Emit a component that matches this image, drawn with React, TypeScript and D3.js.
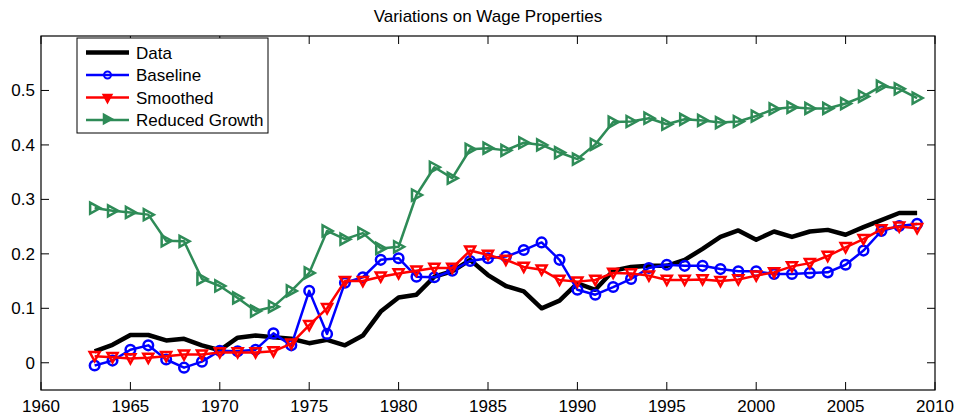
import React from "react";
import * as d3 from "d3";

const years: number[] = d3.range(1963, 2010);

const dataSeries: number[] = [
  0.021, 0.033, 0.051, 0.051, 0.041, 0.044, 0.032, 0.023, 0.046, 0.050,
  0.047, 0.044, 0.036, 0.042, 0.032, 0.050, 0.094, 0.120, 0.125, 0.158,
  0.168, 0.189, 0.161, 0.141, 0.131, 0.100, 0.114, 0.146, 0.134, 0.169,
  0.176, 0.178, 0.178, 0.189, 0.209, 0.231, 0.243, 0.226, 0.241, 0.231,
  0.241, 0.244, 0.235, 0.249, 0.262, 0.275, 0.275,
];

const baseline: number[] = [
  -0.005, 0.004, 0.024, 0.032, 0.006, -0.009, 0.002, 0.022, 0.021, 0.024,
  0.054, 0.032, 0.132, 0.053, 0.147, 0.157, 0.189, 0.192, 0.158, 0.157,
  0.169, 0.187, 0.192, 0.195, 0.207, 0.221, 0.189, 0.134, 0.125, 0.139,
  0.154, 0.174, 0.180, 0.178, 0.178, 0.172, 0.168, 0.168, 0.163, 0.163,
  0.165, 0.166, 0.180, 0.206, 0.242, 0.251, 0.255,
];

const smoothed: number[] = [
  0.012, 0.010, 0.008, 0.009, 0.012, 0.015, 0.015, 0.019, 0.019, 0.019,
  0.021, 0.035, 0.069, 0.100, 0.150, 0.150, 0.158, 0.164, 0.169, 0.174,
  0.174, 0.206, 0.198, 0.189, 0.176, 0.171, 0.152, 0.149, 0.152, 0.165,
  0.164, 0.160, 0.152, 0.152, 0.153, 0.150, 0.153, 0.160, 0.166, 0.177,
  0.183, 0.196, 0.212, 0.227, 0.245, 0.250, 0.247,
];

const reducedGrowth: number[] = [
  0.284, 0.279, 0.276, 0.272, 0.224, 0.223, 0.154, 0.141, 0.119, 0.095,
  0.103, 0.132, 0.165, 0.242, 0.227, 0.238, 0.210, 0.213, 0.308, 0.359,
  0.339, 0.392, 0.394, 0.390, 0.404, 0.400, 0.386, 0.374, 0.401, 0.442,
  0.443, 0.449, 0.438, 0.447, 0.445, 0.441, 0.443, 0.453, 0.466, 0.469,
  0.467, 0.467, 0.476, 0.489, 0.508, 0.503, 0.486,
];

const xTicks: number[] = [1960, 1965, 1970, 1975, 1980, 1985, 1990, 1995, 2000, 2005, 2010];
const yTicks: number[] = [0, 0.1, 0.2, 0.3, 0.4, 0.5];
const legendLabels: string[] = ["Data", "Baseline", "Smoothed", "Reduced Growth"];
const title = "Variations on Wage Properties";

const W = 960;
const H = 419;
const left = 41;
const right = 935;
const top = 36;
const bottom = 390;
const FONT = "'Liberation Sans', Arial, Helvetica, sans-serif";
const FS = 17;

const BLUE = "#0000ff";
const RED = "#ff0000";
const GREEN = "#2e8b57";

const downTri = "M-5,-4.2L5,-4.2L0,5Z";
const rightTri = "M-4.5,-5.5L-4.5,5.5L5.5,0Z";
const legDownTri = "M-4.5,-4L4.5,-4L0,4.5Z";
const legRightTri = "M-4,-5L-4,5L5,0Z";

export default function App() {
  const x = d3.scaleLinear().domain([1960, 2010]).range([left, right]);
  const y = d3.scaleLinear().domain([-0.05, 0.6]).range([bottom, top]);
  const line = d3
    .line<number>()
    .x((_, i) => x(years[i]))
    .y((d) => y(d));

  const tickLen = 8;

  const legendX = 77;
  const legendY = 38;
  const legendW = 191;
  const legendH = 95;
  const rowYs = [52.5, 75, 97.5, 120];

  const marker = (kind: string, cx: number, cy: number, key: string | number, color: string) => {
    if (kind === "circle")
      return <circle key={key} cx={cx} cy={cy} r={4.8} fill="none" stroke={color} strokeWidth={2.5} />;
    if (kind === "down")
      return (
        <path key={key} d={downTri} transform={`translate(${cx},${cy})`} fill="none" stroke={color} strokeWidth={2.5} strokeLinejoin="miter" />
      );
    if (kind === "right")
      return (
        <path key={key} d={rightTri} transform={`translate(${cx},${cy})`} fill="none" stroke={color} strokeWidth={2.5} strokeLinejoin="miter" />
      );
    return null;
  };

  const series = [
    { values: dataSeries, color: "#000000", width: 4.5, kind: "none" },
    { values: baseline, color: BLUE, width: 2.5, kind: "circle" },
    { values: smoothed, color: RED, width: 2.5, kind: "down" },
    { values: reducedGrowth, color: GREEN, width: 2.5, kind: "right" },
  ];

  return (
    <svg width={W} height={H} style={{ position: "absolute", left: 0, top: 0, background: "#fff" }} fontFamily={FONT}>
      <rect x={0} y={0} width={W} height={H} fill="#fff" />
      <text x={(left + right) / 2} y={22} textAnchor="middle" fontSize={FS} fill="#000">
        {title}
      </text>

      {/* ticks */}
      {xTicks.map((t) => (
        <g key={"xt" + t}>
          <line x1={x(t)} x2={x(t)} y1={bottom} y2={bottom - tickLen} stroke="#000" strokeWidth={1} />
          <line x1={x(t)} x2={x(t)} y1={top} y2={top + tickLen} stroke="#000" strokeWidth={1} />
          <text x={x(t)} y={412} textAnchor="middle" fontSize={FS} fill="#000">
            {t}
          </text>
        </g>
      ))}
      {yTicks.map((t) => (
        <g key={"yt" + t}>
          <line x1={left} x2={left + tickLen} y1={y(t)} y2={y(t)} stroke="#000" strokeWidth={1} />
          <line x1={right} x2={right - tickLen} y1={y(t)} y2={y(t)} stroke="#000" strokeWidth={1} />
          <text x={35} y={y(t) + 6} textAnchor="end" fontSize={FS} fill="#000">
            {t === 0 ? "0" : t.toFixed(1)}
          </text>
        </g>
      ))}

      {/* series */}
      {series.map((s, si) => (
        <g key={"s" + si}>
          <path d={line(s.values) || ""} fill="none" stroke={s.color} strokeWidth={s.width} strokeLinejoin="round" />
          {s.kind !== "none" && s.values.map((v, i) => marker(s.kind, x(years[i]), y(v), i, s.color))}
        </g>
      ))}

      {/* axes box */}
      <rect x={left} y={top} width={right - left} height={bottom - top} fill="none" stroke="#000" strokeWidth={1.2} />

      {/* legend */}
      <rect x={legendX} y={legendY} width={legendW} height={legendH} fill="#fff" stroke="#000" strokeWidth={1} />
      {legendLabels.map((lab, i) => {
        const s = series[i];
        const ly = rowYs[i];
        return (
          <g key={"lg" + i}>
            <line x1={86} x2={129} y1={ly} y2={ly} stroke={s.color} strokeWidth={i === 0 ? 4.5 : 2.5} />
            {i === 1 && <circle cx={107.5} cy={ly} r={3.5} fill="none" stroke={s.color} strokeWidth={2} />}
            {i === 2 && (
              <path d={legDownTri} transform={`translate(107.5,${ly + 1})`} fill={s.color} stroke={s.color} strokeWidth={1.5} />
            )}
            {i === 3 && (
              <path d={legRightTri} transform={`translate(107.5,${ly - 1})`} fill={s.color} stroke={s.color} strokeWidth={1.5} />
            )}
            <text x={136} y={ly + 6} fontSize={FS} fill="#000">
              {lab}
            </text>
          </g>
        );
      })}
    </svg>
  );
}
